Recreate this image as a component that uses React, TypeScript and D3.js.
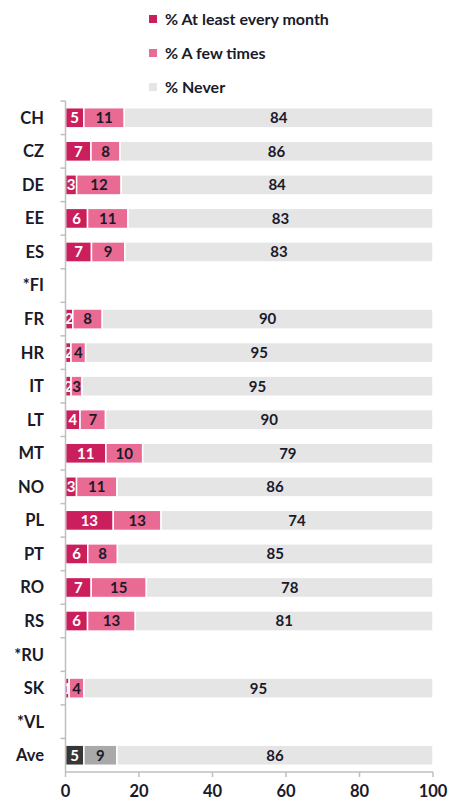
import React from "react";
import * as d3 from "d3";

const categories = ["CH", "CZ", "DE", "EE", "ES", "*FI", "FR", "HR", "IT", "LT", "MT", "NO", "PL", "PT", "RO", "RS", "*RU", "SK", "*VL", "Ave"];
const monthly = [5, 7, 3, 6, 7, null, 2, 1.5, 1.5, 4, 11, 3, 13, 6, 7, 6, null, 1, null, 5];
const fewTimes = [11, 8, 12, 11, 9, null, 8, 4, 3, 7, 10, 11, 13, 8, 15, 13, null, 4, null, 9];
const never = [84, 86, 84, 83, 83, null, 90, 95, 95, 90, 79, 86, 74, 85, 78, 81, null, 95, null, 86];
const xTicks = [0, 20, 40, 60, 80, 100];

const seriesNames = ["% At least every month", "% A few times", "% Never"];
const keys = ["monthly", "few", "never"];
const colors = ["#cb1f5d", "#e96a93", "#e5e5e5"];
const aveColors = ["#363636", "#a9a9a9", "#e5e5e5"];
const textColors = ["#ffffff", "#1a1a2a", "#1a1a2a"];

const W = 452;
const H = 805;
const font = "Lato, 'Noto Sans', sans-serif";

export default function App() {
  const x = d3.scaleLinear().domain([0, 1]).range([65.5, 433]);
  const xAxis = d3.scaleLinear().domain([0, 100]).range([65.5, 433]);
  const y = d3.scaleBand().domain(categories).range([101, 772]).paddingInner(0.4).paddingOuter(0.2);
  const band = d3.scaleBand().domain(categories).range([101, 772]);
  const fmt = d3.format(".0f");

  const table = categories
    .map((c, i) => ({ c, monthly: monthly[i], few: fewTimes[i], never: never[i] }))
    .filter((d) => d.monthly != null);

  // 100% stacked bars
  const stacked = d3.stack<any>().keys(keys).offset(d3.stackOffsetExpand)(table);

  return (
    <svg width={W} height={H} style={{ position: "absolute", left: 0, top: 0, background: "#fff" }}>
      {/* legend */}
      {seriesNames.map((s, i) => (
        <g key={s} transform={`translate(149, ${19 + i * 34})`}>
          <rect x={0} y={-4} width={8} height={8} fill={colors[i]} />
          <text x={16} y={0} dy="0.35em" fontFamily={font} fontWeight={700} fontSize={16} fill="#1a1a2a">
            {s}
          </text>
        </g>
      ))}

      {/* bars */}
      {stacked.map((layer, j) => (
        <g key={layer.key}>
          {layer.map((seg) => {
            const c = seg.data.c;
            const fill = c === "Ave" ? aveColors[j] : colors[j];
            const x0 = x(seg[0]);
            const x1 = x(seg[1]);
            const yc = (y(c) as number) + y.bandwidth() / 2;
            return (
              <g key={c}>
                <rect x={x0} y={y(c)} width={x1 - x0} height={y.bandwidth()} fill={fill} stroke="#fff" strokeWidth={1.5} />
                <text x={(x0 + x1) / 2} y={yc} dy="0.36em" textAnchor="middle"
                  fontFamily={font} fontWeight={700} fontSize={15} fill={textColors[j]}>
                  {fmt(seg.data[layer.key])}
                </text>
              </g>
            );
          })}
        </g>
      ))}

      {/* y axis */}
      <line x1={xAxis(0)} x2={xAxis(0)} y1={101} y2={772} stroke="#bfbfbf" strokeWidth={1.5} />
      {categories.map((c) => (
        <line key={"t" + c} x1={xAxis(0) - 5} x2={xAxis(0)} y1={band(c)} y2={band(c)} stroke="#bfbfbf" strokeWidth={1.5} />
      ))}
      {categories.map((c) => (
        <text key={"l" + c} x={44} y={(band(c) as number) + band.bandwidth() / 2} dy="0.36em" textAnchor="end"
          fontFamily={font} fontWeight={700} fontSize={16.5} fill="#1a1a2a">
          {c}
        </text>
      ))}

      {/* x axis */}
      <line x1={xAxis(0)} x2={xAxis(100)} y1={772} y2={772} stroke="#bfbfbf" strokeWidth={1.5} />
      {xTicks.map((t) => (
        <g key={t}>
          <line x1={xAxis(t)} x2={xAxis(t)} y1={772} y2={777} stroke="#bfbfbf" strokeWidth={1.5} />
          <text x={xAxis(t)} y={791} dy="0.36em" textAnchor="middle" fontFamily={font} fontWeight={700} fontSize={16.5} fill="#1a1a2a">
            {t}
          </text>
        </g>
      ))}
    </svg>
  );
}
